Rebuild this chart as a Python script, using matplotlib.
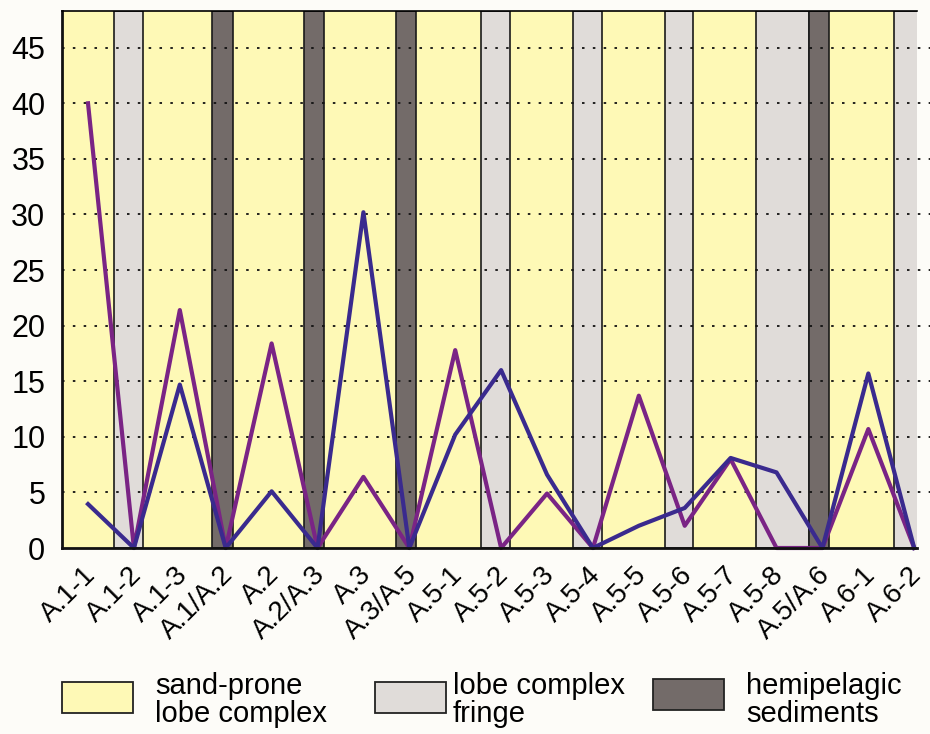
import numpy as np
import matplotlib.pyplot as plt
from matplotlib.patches import Rectangle

plt.rcParams['font.family'] = ['Liberation Sans', 'DejaVu Sans']

# sample intervals along the section
labels = ['A.1-1', 'A.1-2', 'A.1-3', 'A.1/A.2', 'A.2', 'A.2/A.3', 'A.3', 'A.3/A.5',
          'A.5-1', 'A.5-2', 'A.5-3', 'A.5-4', 'A.5-5', 'A.5-6', 'A.5-7', 'A.5-8',
          'A.5/A.6', 'A.6-1', 'A.6-2']
# S = sand-prone lobe complex, F = lobe complex fringe, H = hemipelagic
facies = ['S', 'F', 'S', 'H', 'S', 'H', 'S', 'H', 'S', 'F',
          'S', 'F', 'S', 'F', 'S', 'F', 'H', 'S', 'F']
purple_vals = [40, 0, 21.4, 0, 18.4, 0, 6.4, 0, 17.8, 0,
               4.9, 0, 13.7, 2.0, 8.0, 0, 0, 10.7, 0]
blue_vals = [3.95, 0, 14.7, 0, 5.1, 0, 30.2, 0, 10.2, 16.0,
             6.6, 0, 2.0, 3.6, 8.1, 6.8, 0, 15.7, 0]

yticks = [0, 5, 10, 15, 20, 25, 30, 35, 40, 45]

c_sand = '#fef9b6'
c_fringe = '#e0dcd9'
c_hemi = '#736b69'
c_purple = '#7a2485'
c_blue = '#3a2a8e'
bg = '#fdfcf8'

fig = plt.figure(figsize=(9.3, 7.34), dpi=100, facecolor=bg)
ax = fig.add_axes([0.0667, 0.2534, 0.9193, 0.7316])
ax.set_facecolor(c_sand)

x = np.arange(len(labels))
ax.set_xlim(-0.566, 18.06)
ax.set_ylim(0, 48.3)

# background facies bands
band = {'F': (0.44, 0.19, c_fringe), 'H': (0.29, 0.15, c_hemi)}
for i, f in enumerate(facies):
    if f == 'S':
        continue
    lo, hi, col = band[f]
    x0 = i - lo
    x1 = i + hi
    if i + 1 < len(facies) and facies[i + 1] != 'S':
        x1 = i + 1 - band[facies[i + 1]][0]
    ax.axvspan(x0, x1, facecolor=col, edgecolor='#1a1a1a', lw=1.2, zorder=0.5)

# dotted grid, running a little past the right edge
for yv in yticks[1:]:
    ax.plot([0, 1.015], [yv, yv], transform=ax.get_yaxis_transform(),
            color='#111111', lw=1.3, linestyle=(0, (1.4, 4.6)),
            clip_on=False, zorder=1)

ax.plot(x, purple_vals, color=c_purple, lw=3, zorder=3, clip_on=False)
ax.plot(x, blue_vals, color=c_blue, lw=3, zorder=3, clip_on=False)

ax.set_yticks(yticks)
ax.set_yticklabels([str(v) for v in yticks], fontsize=22)
ax.tick_params(axis='y', length=0, pad=12)
ax.set_xticks([])

# rotated category labels under each sample
for i, lab in enumerate(labels):
    ax.annotate(lab, xy=(x[i], 0), xycoords=('data', 'axes fraction'),
                xytext=(-4, -10), textcoords='offset points',
                rotation=45, ha='right', va='top', rotation_mode='anchor',
                fontsize=20, annotation_clip=False)

for s in ['left', 'bottom']:
    ax.spines[s].set_linewidth(2)
    ax.spines[s].set_color('#111111')
ax.spines['top'].set_linewidth(1.2)
ax.spines['right'].set_visible(False)
for s in ['left', 'bottom', 'top']:
    ax.spines[s].set_zorder(4)

# legend drawn below the chart
W, H = 930.0, 734.0
legend_items = [(c_sand, 'sand-prone\nlobe complex', 62, 682, 155),
                (c_fringe, 'lobe complex\nfringe', 375, 682, 453),
                (c_hemi, 'hemipelagic\nsediments', 653, 679, 746)]
for col, txt, bx, by, tx in legend_items:
    fig.add_artist(Rectangle((bx / W, 1 - (by + 31) / H), 71 / W, 31 / H,
                             transform=fig.transFigure, facecolor=col,
                             edgecolor='#222222', lw=1.3))
    fig.text(tx / W, 1 - 700 / H, txt, fontsize=21, va='center', ha='left',
             linespacing=1.0)

fig.savefig('out.png', dpi=100, facecolor=bg)
